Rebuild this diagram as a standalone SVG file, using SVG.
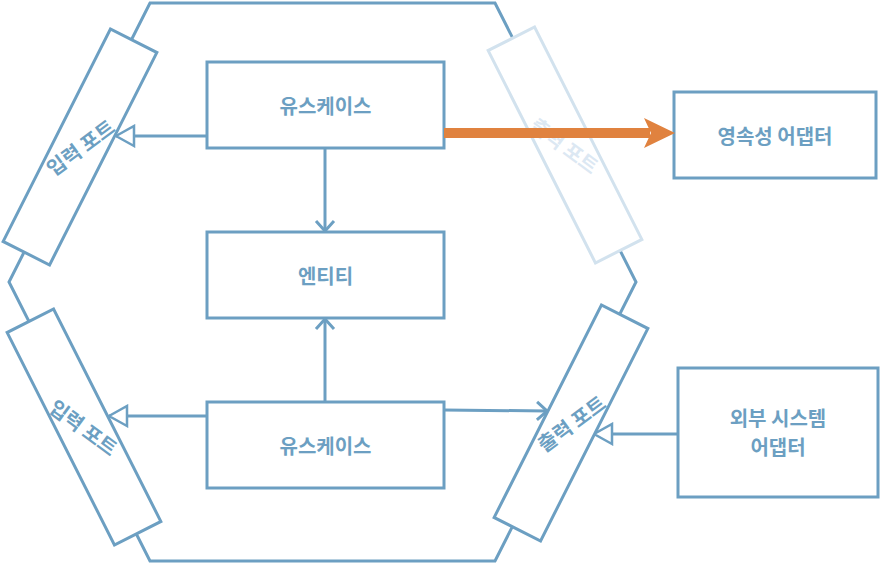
<svg xmlns="http://www.w3.org/2000/svg" width="880" height="564" viewBox="0 0 880 564">
<defs>
<style>
.s{fill:none;stroke:#6c9fc2;stroke-width:3}
.b{fill:#fff;stroke:#6c9fc2;stroke-width:3}
.t{font-family:"Noto Sans CJK KR","Noto Sans",sans-serif;font-weight:bold;font-size:20px;fill:#6c9fc2;text-anchor:middle;dominant-baseline:central}
.c{fill:none;stroke:#6c9fc2;stroke-width:3}
</style>
<marker id="tri" viewBox="0 0 22 24" refX="20" refY="12" markerWidth="22" markerHeight="24" orient="auto" markerUnits="userSpaceOnUse">
<path d="M2,2 L20,12 L2,22 Z" fill="#fff" stroke="#6c9fc2" stroke-width="2.5"/>
</marker>
<marker id="chev" viewBox="0 0 14 22" refX="12" refY="11" markerWidth="14" markerHeight="22" orient="auto" markerUnits="userSpaceOnUse">
<path d="M2,2 L12,11 L2,20" fill="none" stroke="#6c9fc2" stroke-width="3"/>
</marker>
</defs>
<g id="hexagon">
<polygon class="s" points="150,3 495,3 636,282 495,561 150,561 9,282"/>
</g>
<g id="connectors">
<line class="c" x1="207" y1="136" x2="116" y2="136" marker-end="url(#tri)"/>
<line class="c" x1="325" y1="148" x2="325" y2="231" marker-end="url(#chev)"/>
<line class="c" x1="325" y1="402" x2="325" y2="319" marker-end="url(#chev)"/>
<line class="c" x1="207" y1="416" x2="109" y2="416" marker-end="url(#tri)"/>
<line class="c" x1="444" y1="410" x2="547" y2="411" marker-end="url(#chev)"/>
<line class="c" x1="678" y1="434" x2="594" y2="434" marker-end="url(#tri)"/>
</g>
<g id="port-in-top" transform="translate(80,147) rotate(26.8)">
<rect class="b" x="-26" y="-119" width="52" height="238"/>
<text class="t" transform="rotate(-63.2)">입력 포트</text>
</g>
<g id="port-in-bottom" transform="translate(84,427) rotate(-26.8)">
<rect class="b" x="-26" y="-119" width="52" height="238"/>
<text class="t" transform="rotate(63.2)">입력 포트</text>
</g>
<g id="port-out-bottom" transform="translate(571,423) rotate(26.8)">
<rect class="b" x="-26" y="-119" width="52" height="238"/>
<text class="t" transform="rotate(-63.2)">출력 포트</text>
</g>
<g id="port-out-top" transform="translate(565,145) rotate(-26.8)">
<rect x="-26" y="-119" width="52" height="238" fill="#fff" stroke="#d2e2ee" stroke-width="3"/>
<text class="t" style="fill:#dce8f3" transform="rotate(63.2)">출력 포트</text>
</g>
<g id="usecase-top">
<rect class="b" x="207" y="62" width="237" height="86"/>
<text class="t" x="325.5" y="105">유스케이스</text>
</g>
<g id="entity">
<rect class="b" x="207" y="232" width="237" height="86"/>
<text class="t" x="325.5" y="275">엔티티</text>
</g>
<g id="usecase-bottom">
<rect class="b" x="207" y="402" width="237" height="86"/>
<text class="t" x="325.5" y="445">유스케이스</text>
</g>
<g id="persistence-adapter">
<rect class="b" x="674" y="92" width="202" height="86"/>
<text class="t" x="775" y="135">영속성 어댑터</text>
</g>
<g id="external-adapter">
<rect class="b" x="678" y="368" width="200" height="129"/>
<text class="t" x="778" y="417">외부 시스템</text>
<text class="t" x="778" y="446">어댑터</text>
</g>
<g id="orange-arrow">
<line x1="444" y1="133" x2="650" y2="133" stroke="#e0823f" stroke-width="10"/>
<polygon points="644,118 675,133 644,148 651,133" fill="#e0823f"/>
</g>
</svg>
